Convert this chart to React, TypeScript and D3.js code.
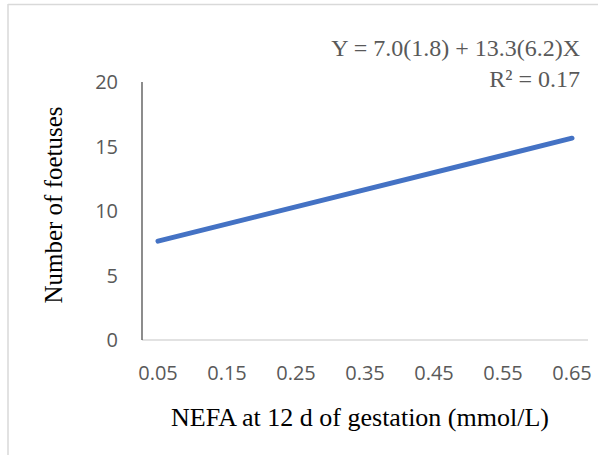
import React from 'react';
import * as d3 from 'd3';

// regression: Y = 7.0 + 13.3 X
const xTicks = [0.05, 0.15, 0.25, 0.35, 0.45, 0.55, 0.65];
const yTicks = [0, 5, 10, 15, 20];
const lineX = [0.05, 0.65];
const lineY = [7.665, 15.645];
const equation = ['Y = 7.0(1.8) + 13.3(6.2)X', 'R² = 0.17'];

const W = 598;
const H = 455;

export default function App() {
  const x = d3.scaleLinear().domain([0.05, 0.65]).range([158, 572]);
  const y = d3.scaleLinear().domain([0, 20]).range([340, 82]);
  const pts = lineX.map((v, i) => [x(v), y(lineY[i])] as [number, number]);
  const line = d3.line();

  const sans = '"Open Sans", sans-serif';
  const serif = '"Liberation Serif", serif';

  return (
    <svg width={W} height={H} style={{ position: 'absolute', left: 0, top: 0, background: '#fff' }}>
      {/* chart border */}
      <line x1={8} y1={4.5} x2={W} y2={4.5} stroke="#d9d9d9" strokeWidth={1.5} />
      <line x1={8} y1={4} x2={8} y2={H} stroke="#d9d9d9" strokeWidth={1.5} />

      {/* axes */}
      <line x1={142} y1={y(0)} x2={588} y2={y(0)} stroke="#d9d9d9" strokeWidth={1.5} />
      <line x1={142} y1={y(20)} x2={142} y2={y(0)} stroke="#404040" strokeWidth={1.2} />

      {yTicks.map((t) => (
        <text key={t} x={118} y={y(t)} dy="0.35em" textAnchor="end" fontFamily={sans} fontSize={20} fill="#595959">
          {t}
        </text>
      ))}
      {xTicks.map((t) => (
        <text key={t} x={x(t)} y={373} dy="0.35em" textAnchor="middle" fontFamily={sans} fontSize={20} fill="#595959">
          {t.toFixed(2)}
        </text>
      ))}

      <path d={line(pts) || ''} fill="none" stroke="#4472c4" strokeWidth={5} strokeLinecap="round" />

      {equation.map((s, i) => (
        <text key={i} x={580} y={48 + i * 31} dy="0.35em" textAnchor="end" fontFamily={serif} fontSize={24} fill="#595959">
          {s}
        </text>
      ))}

      <text
        transform="translate(53,205) rotate(-90)"
        dy="0.35em"
        textAnchor="middle"
        fontFamily={serif}
        fontSize={25}
        fill="#000"
      >
        Number of foetuses
      </text>
      <text x={360} y={417} dy="0.35em" textAnchor="middle" fontFamily={serif} fontSize={26} fill="#000">
        NEFA at 12 d of gestation (mmol/L)
      </text>
    </svg>
  );
}
